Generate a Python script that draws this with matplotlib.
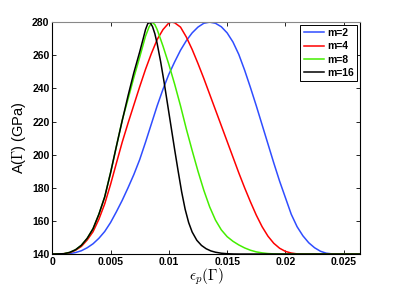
import matplotlib
matplotlib.use("Agg")
import matplotlib.pyplot as plt

# values (x = eps_p, y = A in GPa)
x_m2 = [0, 0.0010, 0.0015, 0.0020, 0.0025, 0.0030, 0.0035, 0.0040, 0.0045, 0.0050,
        0.0055, 0.0060, 0.0065, 0.0070, 0.0075, 0.0080, 0.0085, 0.0090, 0.0095, 0.0100,
        0.0105, 0.0110, 0.0115, 0.0120, 0.0125, 0.0130, 0.0135, 0.0140, 0.0145, 0.0150,
        0.0155, 0.0160, 0.0165, 0.0170, 0.0175, 0.0180, 0.0185, 0.0190, 0.0195, 0.0200,
        0.0205, 0.0210, 0.0215, 0.0220, 0.0225, 0.0230, 0.0235, 0.0240, 0.0245, 0.0264]
y_m2 = [140, 140, 140.3, 140.9, 142.0, 143.8, 146.2, 149.5, 153.6, 159.0,
        165.5, 172.4, 180.0, 188.0, 197.0, 207.5, 218.5, 229.5, 239.5, 248.5,
        256.0, 263.0, 268.8, 273.5, 277.0, 279.3, 280.0, 279.3, 277.2, 273.5,
        268.0, 260.5, 251.0, 240.5, 229.5, 218.0, 206.5, 195.0, 184.0, 174.0,
        164.0, 156.5, 151.0, 146.8, 143.8, 141.7, 140.5, 140.1, 140, 140]

x_m4 = [0, 0.0010, 0.0015, 0.0020, 0.0025, 0.0030, 0.0035, 0.0040, 0.0045, 0.0050,
        0.0055, 0.0060, 0.0065, 0.0070, 0.0075, 0.0080, 0.0085, 0.0090, 0.0095, 0.0100,
        0.01025, 0.0105, 0.0110, 0.0115, 0.0120, 0.0125, 0.0130, 0.0135, 0.0140, 0.0145,
        0.0150, 0.0155, 0.0160, 0.0165, 0.0170, 0.0175, 0.0180, 0.0185, 0.0190, 0.0195,
        0.0200, 0.0205, 0.0210, 0.0215, 0.0264]
y_m4 = [140, 140.2, 140.8, 142.3, 144.6, 148.5, 153.5, 161.0, 170.3, 182.0,
        194.8, 207.5, 219.0, 230.0, 241.0, 251.5, 261.0, 269.5, 275.5, 279.5,
        280.0, 279.6, 277.0, 271.0, 263.5, 255.0, 246.0, 236.5, 227.0, 217.5,
        208.0, 198.5, 189.0, 180.0, 171.5, 163.5, 156.5, 150.8, 146.5, 143.5,
        141.6, 140.6, 140.1, 140, 140]

x_m8 = [0, 0.0010, 0.0015, 0.0020, 0.0025, 0.0030, 0.0035, 0.0040, 0.0045, 0.0050,
        0.0055, 0.0060, 0.0065, 0.0070, 0.0075, 0.0080, 0.0083, 0.00855, 0.0088, 0.0090,
        0.0095, 0.0100, 0.0105, 0.0110, 0.0115, 0.0120, 0.0125, 0.0130, 0.0135, 0.0140,
        0.0145, 0.0150, 0.0155, 0.0160, 0.0165, 0.0170, 0.0175, 0.0180, 0.0185, 0.0190,
        0.0195, 0.0264]
y_m8 = [140, 140.2, 141.0, 142.6, 145.3, 149.5, 155.3, 164.0, 174.5, 189.0,
        204.8, 220.8, 233.5, 246.6, 258.8, 271.5, 277.0, 280.0, 278.5, 275.5,
        265.5, 254.5, 242.5, 229.5, 215.5, 202.5, 190.0, 178.5, 168.5, 160.5,
        154.6, 150.5, 147.7, 145.5, 143.7, 142.3, 141.3, 140.7, 140.3, 140.1,
        140, 140]

x_m16 = [0, 0.0010, 0.0015, 0.0020, 0.0025, 0.0030, 0.0035, 0.0040, 0.0045, 0.0050,
         0.0055, 0.0060, 0.0065, 0.0070, 0.0075, 0.0078, 0.0080, 0.0082, 0.0084, 0.0086,
         0.0088, 0.0090, 0.0093, 0.0096, 0.0099, 0.0102, 0.0105, 0.0108, 0.0111, 0.0114,
         0.0117, 0.0120, 0.0124, 0.0128, 0.0132, 0.0136, 0.0140, 0.0145, 0.0150, 0.0155,
         0.0160, 0.0264]
y_m16 = [140, 140.2, 141.0, 142.6, 145.3, 149.5, 155.3, 164.0, 174.5, 189.0,
         205.0, 220.5, 235.5, 249.5, 262.0, 270.0, 275.5, 279.2, 279.7, 277.3,
         273.0, 267.0, 256.0, 243.5, 230.0, 216.5, 203.0, 190.0, 177.5, 167.0,
         159.0, 153.3, 148.3, 145.2, 143.2, 141.9, 141.1, 140.5, 140.2, 140.05,
         140, 140]

labels = ["m=2", "m=4", "m=8", "m=16"]
colors = ["#2f4dff", "#ff0000", "#44ee00", "#000000"]

x_ticks = [0, 0.005, 0.01, 0.015, 0.02, 0.025]
x_tick_labels = ["0", "0.005", "0.01", "0.015", "0.02", "0.025"]
y_ticks = [140, 160, 180, 200, 220, 240, 260, 280]

plt.rcParams["font.family"] = ["Liberation Sans", "DejaVu Sans"]
plt.rcParams["mathtext.fontset"] = "cm"

fig = plt.figure(figsize=(4.05, 2.91), dpi=100)
ax = fig.add_axes([0.129, 0.127, 0.760, 0.797])

series = [(x_m2, y_m2), (x_m4, y_m4), (x_m8, y_m8), (x_m16, y_m16)]
for (xs, ys), lab, col in zip(series, labels, colors):
    ax.plot(xs, ys, color=col, lw=1.1, label=lab, solid_joinstyle="round")

ax.set_xlim(0, 0.0264)
ax.set_ylim(140, 280)
ax.set_xticks(x_ticks)
ax.set_xticklabels(x_tick_labels)
ax.set_yticks(y_ticks)

ax.tick_params(direction="in", top=True, right=True, length=3, width=0.6,
               labelsize=7.5, pad=2)
for lbl in ax.get_xticklabels() + ax.get_yticklabels():
    lbl.set_fontweight("bold")
for sp in ax.spines.values():
    sp.set_linewidth(0.8)
ax.spines["top"].set_color("#888888")

ax.set_xlabel(r"$\epsilon_p(\Gamma)$", fontsize=11, labelpad=0)
ax.set_ylabel(r"A($\Gamma$) (GPa)", fontsize=10.5, labelpad=3)

leg = ax.legend(loc="upper right", fontsize=7.5, fancybox=False, edgecolor="black",
                framealpha=1, borderpad=0.3, labelspacing=0.32, handlelength=2.0,
                handletextpad=0.3, borderaxespad=0.25)
leg.get_frame().set_linewidth(0.7)
for t in leg.get_texts():
    t.set_fontweight("bold")

fig.savefig("out.png", dpi=100)
